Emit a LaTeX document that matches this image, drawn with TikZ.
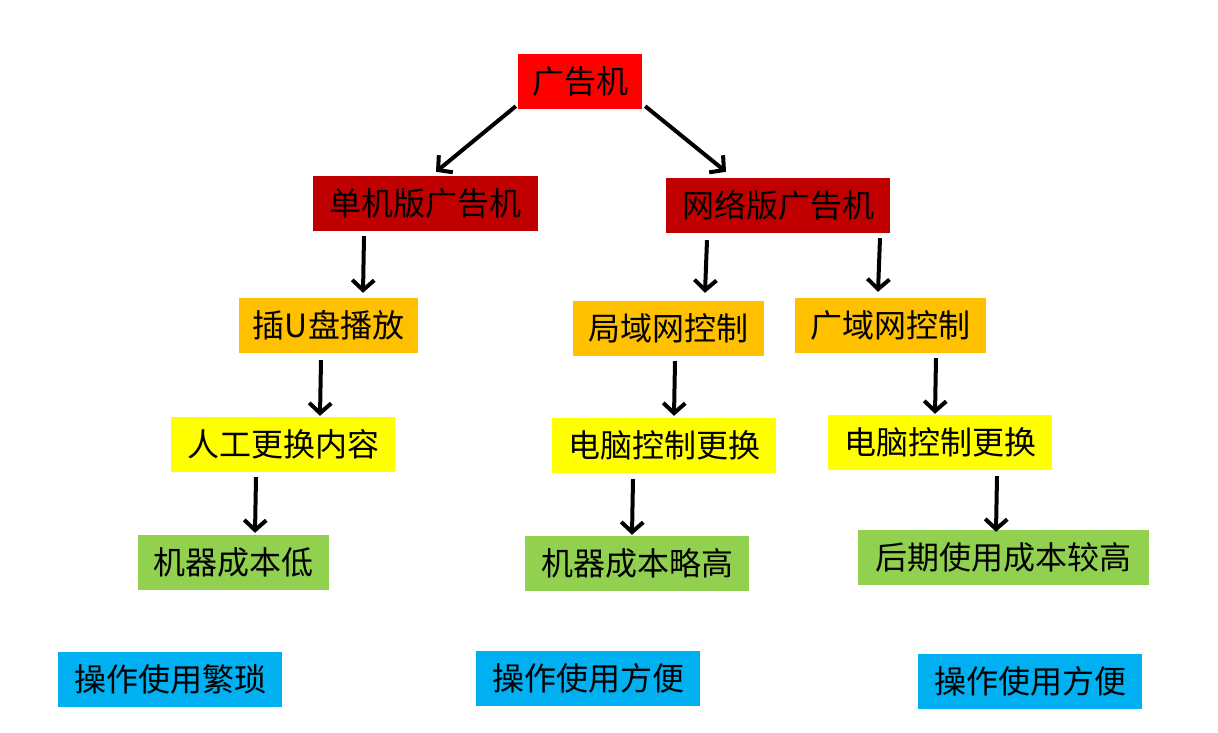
\documentclass[tikz,border=0pt]{standalone}
\usepackage{fontspec}
\newfontfamily\cjk{Noto Sans CJK SC}
\usetikzlibrary{arrows.meta}
\definecolor{cTop}{HTML}{FF0000}
\definecolor{cDark}{HTML}{C00000}
\definecolor{cOrange}{HTML}{FFC000}
\definecolor{cYellow}{HTML}{FFFF00}
\definecolor{cGreen}{HTML}{92D050}
\definecolor{cBlue}{HTML}{00B0F0}
\begin{document}
\begin{tikzpicture}[x=1pt,y=-1pt,
  box/.style={inner sep=0pt,minimum height=55pt,font=\cjk\fontsize{32}{36}\selectfont,text=black},
  arr/.style={line width=4pt,-{Straight Barb[length=10pt,width=22pt]}}]
\fill[white] (0,0) rectangle (1218,733);
\useasboundingbox (0,0) rectangle (1218,733);
\node[box,fill=cTop,minimum width=124pt] (n1) at (580,81.5) {广告机};
\node[box,fill=cDark,minimum width=225pt] (n2) at (425.5,203.5) {单机版广告机};
\node[box,fill=cDark,minimum width=224pt] (n3) at (778,205.5) {网络版广告机};
\node[box,fill=cOrange,minimum width=179pt] (n4) at (328.5,325.5) {插U盘播放};
\node[box,fill=cOrange,minimum width=191pt] (n5) at (668.5,328.5) {局域网控制};
\node[box,fill=cOrange,minimum width=191pt] (n6) at (890.5,325.5) {广域网控制};
\node[box,fill=cYellow,minimum width=224pt] (n7) at (283,444.5) {人工更换内容};
\node[box,fill=cYellow,minimum width=224pt] (n8) at (664,445.5) {电脑控制更换};
\node[box,fill=cYellow,minimum width=224pt] (n9) at (940,442.5) {电脑控制更换};
\node[box,fill=cGreen,minimum width=191pt] (n10) at (233.5,562.5) {机器成本低};
\node[box,fill=cGreen,minimum width=224pt] (n11) at (637,563.5) {机器成本略高};
\node[box,fill=cGreen,minimum width=291pt] (n12) at (1003.5,557.5) {后期使用成本较高};
\node[box,fill=cBlue,minimum width=224pt] (n13) at (170,679.5) {操作使用繁琐};
\node[box,fill=cBlue,minimum width=224pt] (n14) at (588,678.5) {操作使用方便};
\node[box,fill=cBlue,minimum width=224pt] (n15) at (1030,681.5) {操作使用方便};
\draw[arr] ([xshift=-2pt,yshift=3pt]n1.south west) -- ([xshift=10.5pt,yshift=4pt]n2.north);
\draw[arr] ([xshift=3pt,yshift=3pt]n1.south east) -- ([xshift=-52pt,yshift=6pt]n3.north);
\draw[arr] ([xshift=-61.5pt,yshift=-5pt]n2.south) -- ([xshift=34.5pt,yshift=5pt]n4.north);
\draw[arr] ([xshift=-71pt,yshift=-7pt]n3.south) -- ([xshift=36.5pt,yshift=8pt]n5.north);
\draw[arr] ([xshift=102pt,yshift=-5pt]n3.south) -- ([xshift=-12.5pt,yshift=6pt]n6.north);
\draw[arr] ([xshift=-7.5pt,yshift=-7pt]n4.south) -- ([xshift=37pt,yshift=1pt]n7.north);
\draw[arr] ([xshift=6.5pt,yshift=-5pt]n5.south) -- ([xshift=10pt,yshift=2pt]n8.north);
\draw[arr] ([xshift=45.5pt,yshift=-5pt]n6.south) -- ([xshift=-5pt,yshift=1pt]n9.north);
\draw[arr] ([xshift=-27pt,yshift=-5pt]n7.south) -- ([xshift=21.5pt,yshift=2pt]n10.north);
\draw[arr] ([xshift=-31pt,yshift=-6pt]n8.south) -- ([xshift=-5pt,yshift=1pt]n11.north);
\draw[arr] ([xshift=57pt,yshift=-6pt]n9.south) -- ([xshift=-7.5pt,yshift=-2pt]n12.north);
\end{tikzpicture}
\end{document}
